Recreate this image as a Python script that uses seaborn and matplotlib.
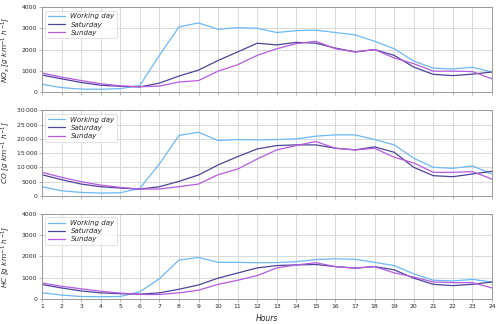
import matplotlib
matplotlib.use("Agg")
import matplotlib.pyplot as plt
import matplotlib.ticker as mticker
import pandas as pd
import seaborn as sns

# hourly emissions
hours = list(range(1, 25))

nox_work = [380, 230, 160, 150, 180, 330, 1740, 3070, 3260, 2960, 3040, 3010,
            2810, 2900, 2920, 2810, 2700, 2400, 2050, 1470, 1140, 1100, 1180, 960]
nox_sat = [820, 640, 470, 340, 290, 260, 440, 770, 1050, 1500, 1900, 2310,
           2230, 2350, 2310, 2080, 1900, 2010, 1740, 1190, 850, 790, 860, 960]
nox_sun = [910, 720, 560, 410, 310, 270, 300, 490, 560, 1000, 1300, 1740,
           2050, 2290, 2400, 2050, 1900, 2010, 1620, 1350, 1000, 1000, 980, 640]

co_work = [3180, 1760, 1180, 940, 1060, 2600, 11200, 21200, 22350, 19400, 19760, 19650,
           19760, 20000, 20950, 21400, 21400, 19760, 17900, 13200, 10000, 9650, 10470, 7650]
co_sat = [7400, 5650, 4120, 3180, 2710, 2350, 3180, 5060, 7300, 10830, 13760, 16470,
          17650, 17880, 17880, 16700, 16120, 17180, 15300, 10000, 7060, 6700, 7650, 8590]
co_sun = [8240, 6470, 4940, 3760, 2940, 2350, 2400, 3180, 4120, 7400, 9400, 12940,
          16120, 17650, 19060, 16700, 16120, 16700, 13530, 11530, 8240, 8240, 8470, 5880]

hc_work = [300, 185, 120, 110, 120, 340, 950, 1830, 1950, 1720, 1720, 1700,
           1710, 1750, 1850, 1890, 1860, 1720, 1570, 1180, 880, 850, 920, 800]
hc_sat = [680, 520, 380, 290, 250, 230, 290, 460, 660, 980, 1220, 1460,
          1570, 1600, 1620, 1520, 1450, 1520, 1370, 980, 690, 630, 690, 800]
hc_sun = [750, 600, 480, 370, 280, 215, 215, 290, 415, 690, 880, 1100,
          1460, 1600, 1700, 1520, 1450, 1520, 1230, 1030, 800, 770, 770, 520]

day_names = ["Working day", "Saturday", "Sunday"]
colors = ["#6cb8f6", "#4b4499", "#b65ae0"]

panels = [
    ("$NO_x$", [nox_work, nox_sat, nox_sun], 4000, 1000),
    ("$CO$", [co_work, co_sat, co_sun], 30000, 5000),
    ("$HC$", [hc_work, hc_sat, hc_sun], 4000, 1000),
]

sns.set_style("whitegrid")
plt.rcParams["font.family"] = ["DejaVu Sans"]
plt.rcParams["font.size"] = 5


def thousands(v, pos):
    v = int(v)
    if v >= 10000:
        return f"{v:,}".replace(",", "\u2009")
    return str(v)


fig, axes = plt.subplots(3, 1, figsize=(5, 3.24), dpi=100, sharex=True)

for ax, (name, series, ymax, ystep) in zip(axes, panels):
    df = pd.DataFrame({"hour": hours * 3,
                       "value": series[0] + series[1] + series[2],
                       "day": [d for d in day_names for _ in hours]})
    sns.lineplot(data=df, x="hour", y="value", hue="day", palette=colors,
                 linewidth=0.9, ax=ax)
    ax.set_xlim(1, 24)
    ax.set_ylim(0, ymax)
    ax.set_xticks(hours)
    ax.set_yticks(range(0, ymax + 1, ystep))
    ax.yaxis.set_major_formatter(mticker.FuncFormatter(thousands))
    ax.set_ylabel(name + " [$g\\ km^{-1}\\ h^{-1}$]", fontsize=5.3, fontstyle="italic")
    ax.yaxis.set_label_coords(-0.066, 0.5)
    ax.set_xlabel("")
    ax.grid(color="#d8d8d8", linewidth=0.7)
    for s in ax.spines.values():
        s.set_color("#999999")
        s.set_linewidth(0.7)
    ax.tick_params(axis="both", length=2.5, width=0.5, color="#999999",
                   labelsize=4.4, pad=1, bottom=True, left=True)
    leg = ax.legend(loc="upper left", fontsize=5, frameon=True,
                    borderpad=0.4, handlelength=2.4, labelspacing=0.3)
    leg.get_frame().set_edgecolor("#cccccc")
    leg.get_frame().set_linewidth(0.5)
    for t in leg.get_texts():
        t.set_fontstyle("italic")

axes[-1].set_xlabel("Hours", fontsize=5.5, fontstyle="italic")
fig.subplots_adjust(left=0.084, right=0.984, top=0.978, bottom=0.077, hspace=0.21)
fig.savefig("out.png", dpi=100)
